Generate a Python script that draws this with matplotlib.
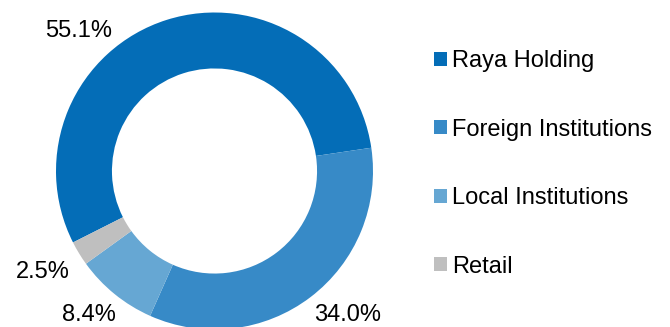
import matplotlib
matplotlib.use("Agg")
import matplotlib.pyplot as plt
from matplotlib.patches import Patch

plt.rcParams['font.family'] = ['Liberation Sans', 'DejaVu Sans']

categories = ["Raya Holding", "Foreign Institutions", "Local Institutions", "Retail"]
values = [55.1, 34.0, 8.4, 2.5]
value_labels = ["55.1%", "34.0%", "8.4%", "2.5%"]
colors = ["#046DB7", "#378AC7", "#66A7D3", "#BFBFBF"]
# label anchor positions (data units, pie radius = 1)
label_pos = [(-0.858, 0.845), (0.839, -0.946), (-0.795, -0.946), (-1.085, -0.675)]

fig = plt.figure(figsize=(6.70, 3.27), dpi=100)
ax = fig.add_axes([56 / 670, -2.5 / 327, 317 / 670, 317 / 327])
ax.pie(values, colors=colors, startangle=206.8, counterclock=False, radius=1,
       wedgeprops=dict(width=0.353, edgecolor='none', linewidth=0))
ax.set_xlim(-1, 1)
ax.set_ylim(-1, 1)
ax.set_aspect('equal')
ax.axis('off')
for p in ax.patches:
    p.set_clip_on(False)

for txt, (x, y) in zip(value_labels, label_pos):
    ax.text(x, y, txt, ha='center', va='baseline', fontsize=17, color='#000000', clip_on=False)

handles = [Patch(facecolor=c, edgecolor='none') for c in colors]
fig.legend(handles, categories, loc='upper left', bbox_to_anchor=(434 / 670, 1 - 50 / 327),
           frameon=False, fontsize=17, borderpad=0, borderaxespad=0,
           handlelength=0.55, handleheight=0.55, handletextpad=0.22, labelspacing=1.97)

fig.savefig("out.png", dpi=100)
